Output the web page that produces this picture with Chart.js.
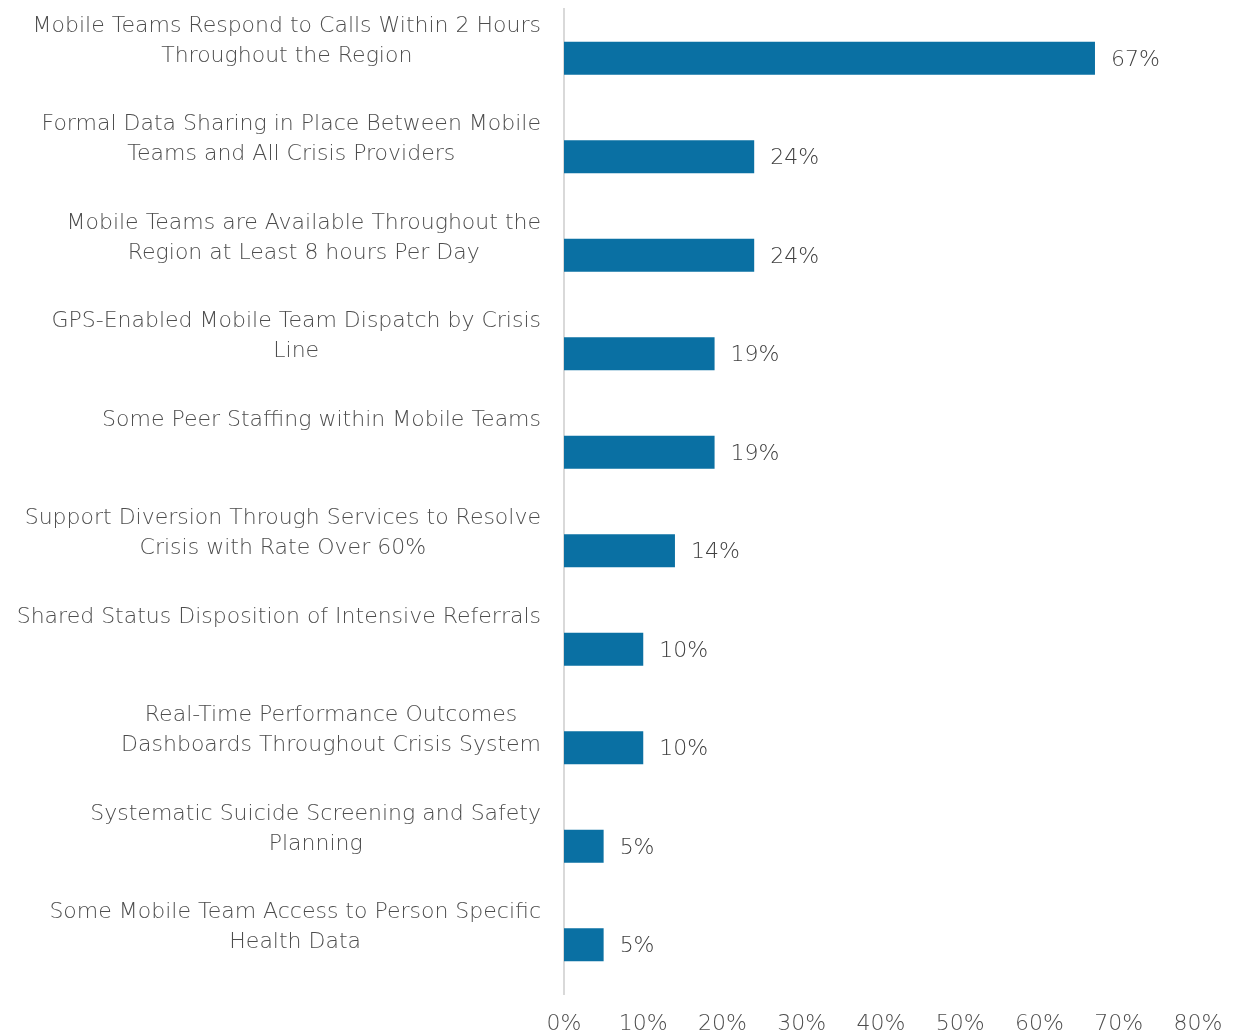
<!DOCTYPE html>
<html>
<head>
<meta charset="utf-8">
<script src="https://cdn.jsdelivr.net/npm/chart.js@4/dist/chart.umd.min.js"></script>
<style>
  html, body { margin: 0; padding: 0; background: #ffffff; }
  #wrap { width: 1233px; height: 1034px; }
</style>
</head>
<body>
<div id="wrap"><canvas id="grafico"></canvas></div>
<script>
// categorias (ya partidas en lineas) y porcentajes
var categorias = [
    ['Mobile Teams Respond to Calls Within 2 Hours', 'Throughout the Region'],
    ['Formal Data Sharing in Place Between Mobile', 'Teams and All Crisis Providers'],
    ['Mobile Teams are Available Throughout the', 'Region at Least 8 hours Per Day'],
    ['GPS-Enabled Mobile Team Dispatch by Crisis', 'Line'],
    ['Some Peer Staffing within Mobile Teams'],
    ['Support Diversion Through Services to Resolve', 'Crisis with Rate Over 60%'],
    ['Shared Status Disposition of Intensive Referrals'],
    ['Real-Time Performance Outcomes', 'Dashboards Throughout Crisis System'],
    ['Systematic Suicide Screening and Safety', 'Planning'],
    ['Some Mobile Team Access to Person Specific', 'Health Data']
];
var porcentajes = [67, 24, 24, 19, 19, 14, 10, 10, 5, 5];
var ejeMax = 80;
var ejePaso = 10;

var fuente = '"DejaVu Sans", sans-serif';
var tamFuente = 22;
var pesoFuente = '300';
var colorTexto = '#4d4d4d';
var colorBarra = '#0a70a3';

// etiquetas de categoria: bloque alineado a la derecha, lineas centradas
var etiquetasCategorias = {
    id: 'etiquetasCategorias',
    afterDraw: function (chart) {
        var ctx = chart.ctx;
        var y = chart.scales.y;
        var derecha = chart.chartArea.left - 23;
        ctx.save();
        ctx.font = pesoFuente + ' ' + tamFuente + 'px ' + fuente;
        ctx.fillStyle = colorTexto;
        ctx.textAlign = 'center';
        ctx.textBaseline = 'middle';
        categorias.forEach(function (lineas, i) {
            var ancho = 0;
            lineas.forEach(function (l) { ancho = Math.max(ancho, ctx.measureText(l).width); });
            var cx = derecha - ancho / 2;
            var cy = y.getPixelForTick(i);
            lineas.forEach(function (l, j) {
                ctx.fillText(l, cx, cy - 32 + j * 30);
            });
        });
        ctx.restore();
    }
};

// valor al final de cada barra
var etiquetasValores = {
    id: 'etiquetasValores',
    afterDatasetsDraw: function (chart) {
        var ctx = chart.ctx;
        var meta = chart.getDatasetMeta(0);
        ctx.save();
        ctx.font = pesoFuente + ' ' + tamFuente + 'px ' + fuente;
        ctx.fillStyle = '#404040';
        ctx.textAlign = 'left';
        ctx.textBaseline = 'middle';
        meta.data.forEach(function (barra, i) {
            ctx.fillText(porcentajes[i] + '%', barra.x + 16, barra.y + 2);
        });
        ctx.restore();
    }
};

var ctx = document.getElementById('grafico');
new Chart(ctx, {
    type: 'bar',
    data: {
        labels: categorias.map(function (c) { return c.join(' '); }),
        datasets: [{
            data: porcentajes,
            backgroundColor: colorBarra,
            borderWidth: 0,
            categoryPercentage: 1,
            barPercentage: 0.335
        }]
    },
    options: {
        indexAxis: 'y',
        responsive: true,
        maintainAspectRatio: false,
        animation: false,
        layout: {
            padding: { top: 9, right: 35, left: 0, bottom: 0 }
        },
        plugins: {
            legend: { display: false },
            tooltip: { enabled: false }
        },
        scales: {
            y: {
                ticks: { display: false },
                grid: { display: false },
                border: { display: true, color: '#d9d9d9', width: 2 },
                afterFit: function (scale) { scale.width = 564; }
            },
            x: {
                min: 0,
                max: ejeMax,
                grid: { display: false, drawTicks: false },
                border: { display: false },
                ticks: {
                    stepSize: ejePaso,
                    padding: 17,
                    color: colorTexto,
                    font: { family: fuente, size: tamFuente, weight: pesoFuente },
                    callback: function (v) { return v + '%'; }
                },
                afterFit: function (scale) {
                    scale.height = 40;
                    scale.paddingLeft = 0;
                    scale.paddingRight = 0;
                }
            }
        }
    },
    plugins: [etiquetasCategorias, etiquetasValores]
});
</script>
</body>
</html>
